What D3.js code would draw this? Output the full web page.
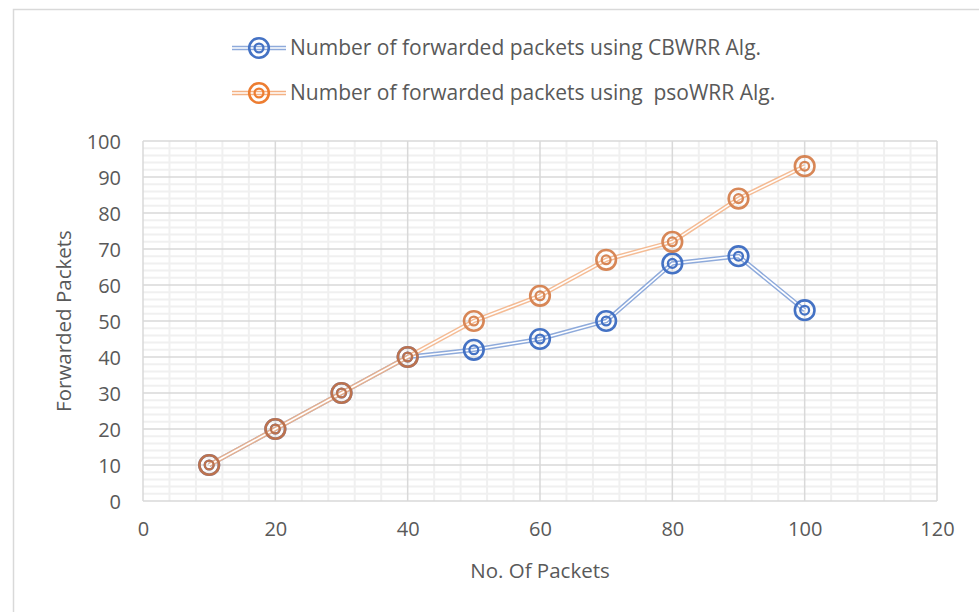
<!DOCTYPE html>
<html>
<head>
<meta charset="utf-8">
<script src="https://cdn.jsdelivr.net/npm/d3@7"></script>
<style>
  html, body { margin: 0; padding: 0; background: #fff; }
  svg { display: block; font-family: "Open Sans", "Noto Sans", sans-serif; }
</style>
</head>
<body>
<svg id="chart" width="979" height="612"></svg>
<script>
// Packets sent (x) and packets forwarded (y) for each algorithm
const packetsSent = [10, 20, 30, 40, 50, 60, 70, 80, 90, 100];
const cbwrrForwarded = [10, 20, 30, 40, 42, 45, 50, 66, 68, 53];
const psowrrForwarded = [10, 20, 30, 40, 50, 57, 67, 72, 84, 93];
const seriesNames = [
  "Number of forwarded packets using CBWRR Alg.",
  "Number of forwarded packets using  psoWRR Alg."
];
const xTicks = [0, 20, 40, 60, 80, 100, 120];
const yTicks = [0, 10, 20, 30, 40, 50, 60, 70, 80, 90, 100];
const xTitle = "No. Of Packets";
const yTitle = "Forwarded Packets";

const svg = d3.select("#chart");
const W = 979, H = 612;
const plot = { left: 143, right: 937, top: 141, bottom: 501 };
const FONT = "20px";

const x = d3.scaleLinear().domain([0, 120]).range([plot.left, plot.right]);
const y = d3.scaleLinear().domain([0, 100]).range([plot.bottom, plot.top]);

// chart area border
svg.append("rect")
  .attr("x", 13.5).attr("y", 9.5)
  .attr("width", W + 20).attr("height", H + 20)
  .attr("fill", "#fff").attr("stroke", "#d9d9d9").attr("stroke-width", 1.5);

// gridlines: minor first, then major
const grid = svg.append("g");
const minorX = d3.range(0, 121, 4).filter(v => v % 20 !== 0);
const minorY = d3.range(0, 101, 2).filter(v => v % 10 !== 0);
grid.selectAll(".mx").data(minorX).join("line")
  .attr("x1", d => x(d)).attr("x2", d => x(d))
  .attr("y1", plot.top).attr("y2", plot.bottom)
  .attr("stroke", "#f0f0f0").attr("stroke-width", 2);
grid.selectAll(".my").data(minorY).join("line")
  .attr("x1", plot.left).attr("x2", plot.right)
  .attr("y1", d => y(d)).attr("y2", d => y(d))
  .attr("stroke", "#f0f0f0").attr("stroke-width", 2);
grid.selectAll(".Mx").data(xTicks).join("line")
  .attr("x1", d => x(d)).attr("x2", d => x(d))
  .attr("y1", plot.top).attr("y2", plot.bottom)
  .attr("stroke", "#d9d9d9").attr("stroke-width", 1.5);
grid.selectAll(".My").data(yTicks).join("line")
  .attr("x1", plot.left).attr("x2", plot.right)
  .attr("y1", d => y(d)).attr("y2", d => y(d))
  .attr("stroke", "#d9d9d9").attr("stroke-width", 1.5);

// axes (labels only; lines come from the grid)
const xAxis = svg.append("g")
  .attr("transform", `translate(0,${plot.bottom + 21})`)
  .call(d3.axisBottom(x).tickValues(xTicks).tickSize(0).tickPadding(0));
const yAxis = svg.append("g")
  .attr("transform", `translate(${plot.left - 22},0)`)
  .call(d3.axisLeft(y).tickValues(yTicks).tickSize(0).tickPadding(0));
[xAxis, yAxis].forEach(a => {
  a.select(".domain").remove();
  a.selectAll("text")
    .attr("fill", "#595959")
    .style("font-size", FONT)
    .style("font-family", "'Open Sans', sans-serif");
});
xAxis.selectAll("text").attr("dy", "0.71em");
yAxis.selectAll("text").attr("dy", "0.35em");

// axis titles
svg.append("text")
  .attr("x", (plot.left + plot.right) / 2).attr("y", 578)
  .attr("text-anchor", "middle").attr("fill", "#595959")
  .style("font-size", "20.5px").text(xTitle);
svg.append("text")
  .attr("transform", `translate(71,${(plot.top + plot.bottom) / 2}) rotate(-90)`)
  .attr("text-anchor", "middle").attr("fill", "#595959")
  .style("font-size", "20.5px").text(yTitle);

// series styles
const series = [
  { name: seriesNames[0], values: cbwrrForwarded, line: "#8eaadb", mark: "#4472c4", opacity: 1 },
  { name: seriesNames[1], values: psowrrForwarded, line: "#f4b183", mark: "#d2733a", opacity: 0.85 }
];

const lineGen = d3.line().x(d => x(d[0])).y(d => y(d[1]));

function drawDoubleLine(g, pts, color) {
  g.append("path").datum(pts).attr("d", lineGen)
    .attr("fill", "none").attr("stroke", color).attr("stroke-width", 4.5);
  g.append("path").datum(pts).attr("d", lineGen)
    .attr("fill", "none").attr("stroke", "#fff").attr("stroke-width", 1.6);
}
function drawMarker(g, cx, cy, color) {
  g.append("circle").attr("cx", cx).attr("cy", cy).attr("r", 9.8)
    .attr("fill", "none").attr("stroke", color).attr("stroke-width", 2.6);
  g.append("circle").attr("cx", cx).attr("cy", cy).attr("r", 4.4)
    .attr("fill", "none").attr("stroke", color).attr("stroke-width", 2.3);
}

series.forEach(s => {
  const g = svg.append("g").attr("opacity", s.opacity);
  const pts = packetsSent.map((v, i) => [v, s.values[i]]);
  drawDoubleLine(g, pts, s.line);
  pts.forEach(p => drawMarker(g, x(p[0]), y(p[1]), s.mark));
});

// legend
const legendRows = [48, 93];
series.forEach((s, i) => {
  const g = svg.append("g").attr("transform", `translate(0,${legendRows[i]})`);
  g.append("line").attr("x1", 232).attr("x2", 286).attr("y1", 0).attr("y2", 0)
    .attr("stroke", s.line).attr("stroke-width", 4.5);
  g.append("line").attr("x1", 232).attr("x2", 286).attr("y1", 0).attr("y2", 0)
    .attr("stroke", "#fff").attr("stroke-width", 1.6);
  drawMarker(g, 259, 0, i === 0 ? s.mark : "#ed7d31");
  g.append("text").attr("x", 290).attr("y", 0).attr("dy", "0.35em")
    .attr("fill", "#595959").style("font-size", "21px")
    .style("white-space", "pre").attr("xml:space", "preserve")
    .text(s.name);
});
</script>
</body>
</html>
